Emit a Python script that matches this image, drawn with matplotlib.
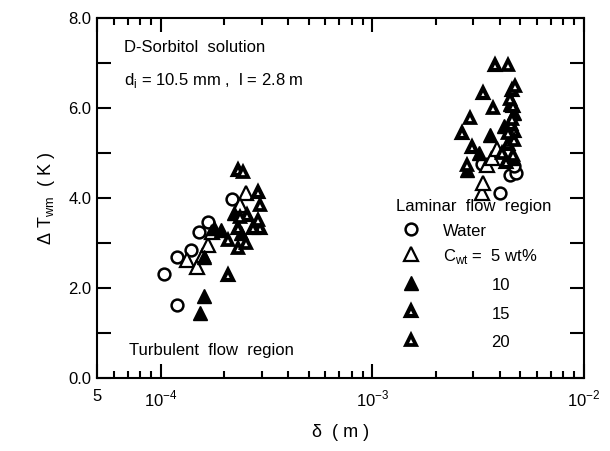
import matplotlib
matplotlib.use("Agg")
import matplotlib.pyplot as plt
from matplotlib.ticker import LogLocator, FixedLocator, NullFormatter, FixedFormatter

plt.rcParams['font.family'] = ['Liberation Sans', 'DejaVu Sans']
plt.rcParams['mathtext.fontset'] = 'custom'
plt.rcParams['mathtext.rm'] = 'Liberation Sans'

# ---- data (delta in m, dT in K) ----
water_x = [1.04e-4, 1.19e-4, 1.20e-4, 1.39e-4, 1.51e-4, 1.68e-4, 2.18e-4,
           3.3e-3, 4.0e-3, 4.5e-3, 4.8e-3, 4.7e-3]
water_y = [2.31, 1.62, 2.69, 2.84, 3.24, 3.47, 3.98,
           4.75, 4.11, 4.51, 4.56, 4.70]

w5_x = [1.33e-4, 1.49e-4, 1.59e-4, 1.67e-4, 1.75e-4, 2.52e-4, 2.38e-4,
        3.3e-3, 3.35e-3, 3.5e-3, 3.7e-3, 3.9e-3]
w5_y = [2.62, 2.47, 2.73, 2.96, 3.25, 4.11, 3.85,
        4.11, 4.33, 4.73, 4.90, 5.10]

w10_x = [1.54e-4, 1.61e-4, 1.60e-4, 1.78e-4, 1.92e-4, 2.21e-4, 2.40e-4,
         2.8e-3, 3.2e-3, 3.6e-3, 4.2e-3, 4.6e-3, 4.7e-3, 4.5e-3]
w10_y = [1.44, 1.82, 2.69, 3.33, 3.29, 3.67, 3.22,
         4.62, 5.00, 5.40, 5.60, 4.90, 5.90, 6.10]

w15_x = [2.07e-4, 2.31e-4, 2.57e-4, 2.87e-4, 2.96e-4, 2.33e-4, 2.74e-4,
         2.65e-3, 2.96e-3, 3.34e-3, 3.80e-3, 4.4e-3, 4.6e-3, 4.7e-3, 4.3e-3,
         4.65e-3, 4.55e-3]
w15_y = [2.29, 4.62, 3.62, 4.13, 3.33, 3.33, 3.33,
         5.44, 5.13, 6.33, 6.96, 5.20, 6.40, 5.50, 4.80,
         6.05, 5.65]

w20_x = [2.07e-4, 2.31e-4, 2.44e-4, 2.52e-4, 2.87e-4, 2.96e-4, 2.38e-4,
         2.80e-3, 2.90e-3, 3.72e-3, 4.38e-3, 4.5e-3, 4.6e-3, 4.7e-3, 4.1e-3,
         4.75e-3, 4.4e-3, 4.65e-3]
w20_y = [3.07, 2.89, 4.58, 3.00, 3.51, 3.84, 3.58,
         4.73, 5.78, 6.00, 6.96, 6.20, 5.75, 5.30, 5.00,
         6.50, 5.45, 4.95]

legend_labels = ["Water", "5 wt%", "10", "15", "20"]

fig = plt.figure(figsize=(6.1, 4.51), dpi=100)
ax = fig.add_axes([0.159, 0.162, 0.798, 0.798])
ax.set_xscale('log')
ax.set_xlim(5e-5, 1e-2)
ax.set_ylim(0, 8)

ms = 8.5
sty_w = dict(ls='none', marker='o', ms=ms, mfc='white', mec='black', mew=1.8)
sty_5 = dict(ls='none', marker='^', ms=ms + 1, mfc='white', mec='black', mew=1.6)
sty_10 = dict(ls='none', marker='^', ms=ms + 1, mfc='black', mec='black', mew=1.0)
sty_15 = dict(ls='none', marker='^', ms=7.6, mfc='white', mec='black', mew=3.0)
sty_20 = dict(ls='none', marker='^', ms=7.6, mfc='white', mec='black', mew=2.7)

ax.plot(water_x, water_y, **sty_w)
ax.plot(w5_x, w5_y, **sty_5)
ax.plot(w10_x, w10_y, **sty_10)
ax.plot(w15_x, w15_y, **sty_15)
ax.plot(w20_x, w20_y, **sty_20)

# ticks
ax.xaxis.set_major_locator(FixedLocator([5e-5, 1e-4, 1e-3, 1e-2]))
ax.xaxis.set_major_formatter(FixedFormatter(['5', r'10$^{-4}$', r'10$^{-3}$', r'10$^{-2}$']))
ax.xaxis.set_minor_locator(LogLocator(base=10, subs=[2, 3, 4, 5, 6, 7, 8, 9]))
ax.xaxis.set_minor_formatter(NullFormatter())
ax.yaxis.set_major_locator(FixedLocator([0, 2, 4, 6, 8]))
ax.yaxis.set_major_formatter(FixedFormatter(['0.0', '2.0', '4.0', '6.0', '8.0']))
ax.yaxis.set_minor_locator(FixedLocator([1, 3, 5, 7]))
ax.tick_params(which='both', direction='in', top=True, right=True, width=1.5, labelsize=12)
ax.tick_params(axis='x', which='major', length=10, pad=8)
ax.tick_params(axis='x', which='minor', length=5)
ax.tick_params(axis='y', which='major', length=10, pad=4)
ax.tick_params(axis='y', which='minor', length=10)
for s in ax.spines.values():
    s.set_linewidth(1.5)

ax.set_xlabel('δ  ( m )', fontsize=13, labelpad=10)
ax.set_ylabel(r'Δ T$_{\rm wm}$  ( K )', fontsize=13, labelpad=8)

# annotations
ax.text(0.055, 0.905, 'D-Sorbitol  solution', transform=ax.transAxes, fontsize=12)
ax.text(0.055, 0.815, r'd$_{\rm i}$ = 10.5 mm ,  l = 2.8 m', transform=ax.transAxes, fontsize=12)
ax.text(0.065, 0.065, 'Turbulent  flow  region', transform=ax.transAxes, fontsize=12)
ax.text(0.615, 0.465, 'Laminar  flow  region', transform=ax.transAxes, fontsize=12)

# manual legend
leg_styles = [sty_w, sty_5, sty_10, sty_15, sty_20]
leg_y = [0.395, 0.325, 0.245, 0.165, 0.085]
for st, yy in zip(leg_styles, leg_y):
    ax.plot([0.645], [yy + 0.02], transform=ax.transAxes, clip_on=False, **st)
ax.text(0.71, leg_y[0], legend_labels[0], transform=ax.transAxes, fontsize=12)
ax.text(0.71, leg_y[1], r'C$_{\rm wt}$ =  ' + legend_labels[1], transform=ax.transAxes, fontsize=12)
for lab, yy in zip(legend_labels[2:], leg_y[2:]):
    ax.text(0.81, yy, lab, transform=ax.transAxes, fontsize=12)

fig.savefig('out.png', dpi=100)
